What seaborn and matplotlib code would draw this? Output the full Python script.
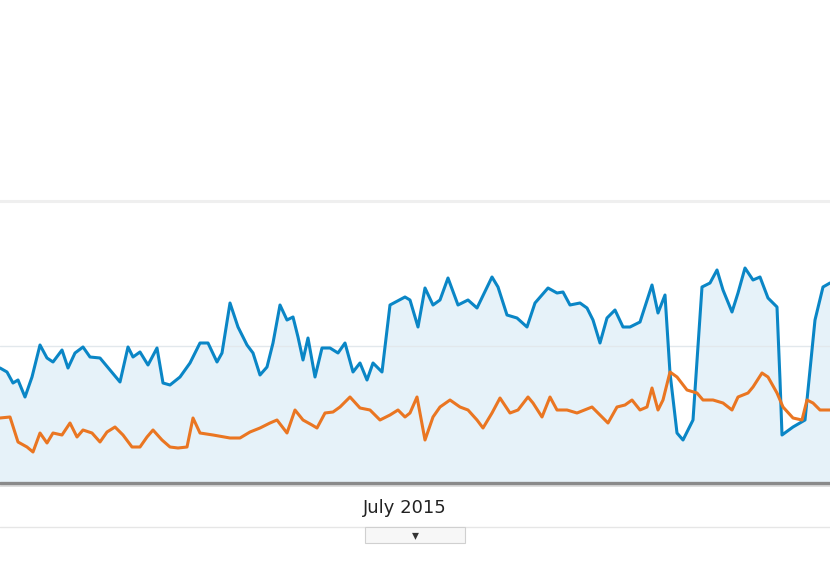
import matplotlib
matplotlib.use("Agg")
import matplotlib.pyplot as plt
import seaborn as sns
import pandas as pd
from matplotlib.lines import Line2D
from matplotlib.patches import Rectangle

# ---- data (x = position along the time axis, value = height above baseline) ----
blue_x = [0, 7, 13, 18, 25, 32, 40, 47, 53, 62, 68, 75, 83, 90, 100, 110, 120, 128, 133, 140,
          148, 157, 163, 170, 180, 190, 200, 208, 217, 222, 230, 238, 247, 253, 260, 267, 273,
          280, 287, 293, 298, 303, 308, 315, 322, 330, 338, 345, 353, 360, 367, 373, 382, 390,
          405, 410, 418, 425, 433, 440, 448, 458, 468, 477, 492, 498, 507, 517, 527, 535, 548,
          557, 563, 570, 580, 587, 593, 600, 607, 615, 623, 630, 640, 652, 658, 665, 670, 677,
          683, 693, 702, 710, 717, 723, 732, 738, 745, 753, 760, 768, 777, 780, 782, 793, 805,
          815, 823, 830]
blue_v = [114, 110, 99, 102, 85, 105, 137, 124, 120, 132, 114, 129, 135, 125, 124, 112, 100, 135,
          125, 130, 117, 134, 99, 97, 105, 119, 139, 139, 120, 129, 179, 155, 137, 129, 107, 115,
          139, 177, 162, 165, 145, 122, 144, 105, 134, 134, 129, 139, 110, 119, 102, 119, 110,
          177, 185, 182, 155, 194, 177, 182, 204, 177, 182, 174, 205, 195, 167, 164, 155, 179,
          194, 189, 190, 177, 179, 174, 162, 139, 164, 172, 155, 155, 160, 197, 169, 187, 109,
          49, 42, 62, 195, 199, 212, 192, 170, 189, 214, 202, 205, 184, 175, 102, 47, 55, 62,
          162, 195, 199]

orange_x = [0, 10, 18, 27, 33, 40, 47, 53, 62, 70, 77, 83, 92, 100, 107, 115, 123, 132, 140, 147,
            153, 162, 170, 178, 187, 193, 200, 213, 230, 240, 250, 260, 270, 277, 287, 295, 303,
            312, 317, 325, 333, 340, 350, 360, 370, 380, 390, 398, 405, 410, 417, 425, 433, 440,
            450, 460, 468, 477, 483, 492, 500, 510, 518, 528, 533, 542, 550, 557, 567, 577, 592,
            600, 608, 617, 625, 632, 640, 647, 652, 658, 663, 670, 677, 687, 697, 703, 713, 723,
            732, 738, 748, 753, 762, 768, 777, 783, 793, 802, 807, 813, 820, 830]
orange_v = [64, 65, 40, 35, 30, 49, 39, 49, 47, 59, 45, 52, 49, 40, 50, 55, 47, 35, 35, 45, 52, 42,
            35, 34, 35, 64, 49, 47, 44, 44, 50, 54, 59, 62, 49, 72, 62, 57, 54, 69, 70, 75, 85, 74,
            72, 62, 67, 72, 65, 69, 85, 42, 65, 75, 82, 75, 72, 62, 54, 69, 84, 69, 72, 85, 79, 65,
            85, 72, 72, 69, 75, 67, 59, 75, 77, 82, 72, 75, 94, 72, 82, 110, 105, 92, 89, 82, 82,
            79, 72, 85, 89, 95, 109, 105, 89, 75, 64, 62, 82, 79, 72, 72]

tick_pos = [405]
tick_labels = ["July 2015"]

W, H = 830, 568
fig = plt.figure(figsize=(W / 100, H / 100), dpi=100)
sns.set_style("white")
fig.patch.set_facecolor("white")

ax_bottom_px, ax_top_px = 482, 201
ax = fig.add_axes([0, (H - ax_bottom_px) / H, 1, (ax_bottom_px - ax_top_px) / H])
ax.set_facecolor("white")

df_b = pd.DataFrame({"x": blue_x, "v": blue_v})
df_o = pd.DataFrame({"x": orange_x, "v": orange_v})

ax.fill_between(df_b["x"], df_b["v"], 0, color="#e6f2f9", lw=0, zorder=1)
ax.axhline(136, color="#e2e8ec", lw=1.0, zorder=1.5)
sns.lineplot(data=df_b, x="x", y="v", ax=ax, color="#0a86c6", lw=2.2, zorder=3,
             estimator=None, sort=False)
sns.lineplot(data=df_o, x="x", y="v", ax=ax, color="#ea7622", lw=2.2, zorder=4,
             estimator=None, sort=False)

ax.set_xlim(0, 830)
ax.set_ylim(0, 281)
for s in ax.spines.values():
    s.set_visible(False)
ax.set_xlabel("")
ax.set_ylabel("")
ax.set_yticks([])
ax.set_xticks(tick_pos)
ax.set_xticklabels(tick_labels)
ax.tick_params(axis="x", length=0, pad=12, labelsize=13, labelcolor="#222222")

# top border line
fig.add_artist(Line2D([0, 1], [1 - 201 / H, 1 - 201 / H], color="#efefef", lw=2.2,
                      transform=fig.transFigure))
# bottom thick axis line
fig.add_artist(Line2D([0, 1], [1 - 483 / H, 1 - 483 / H], color="#8a8a8a", lw=2.4,
                      transform=fig.transFigure, zorder=10))
fig.add_artist(Line2D([0, 1], [1 - 486 / H, 1 - 486 / H], color="#d8d8d8", lw=1.2,
                      transform=fig.transFigure, zorder=9))
# faint line under label
fig.add_artist(Line2D([0, 1], [1 - 527 / H, 1 - 527 / H], color="#e6e6e6", lw=1.0,
                      transform=fig.transFigure))
# button below
fig.add_artist(Rectangle((365 / W, 1 - 543 / H), 100 / W, 16 / H, transform=fig.transFigure,
                         facecolor="#f7f7f7", edgecolor="#d0d0d0", lw=0.8, zorder=5))
fig.text(415 / W, 1 - 535 / H, "\u25BE", ha="center", va="center", fontsize=10,
         color="#333333", zorder=6)

fig.savefig("out.png", dpi=100)
